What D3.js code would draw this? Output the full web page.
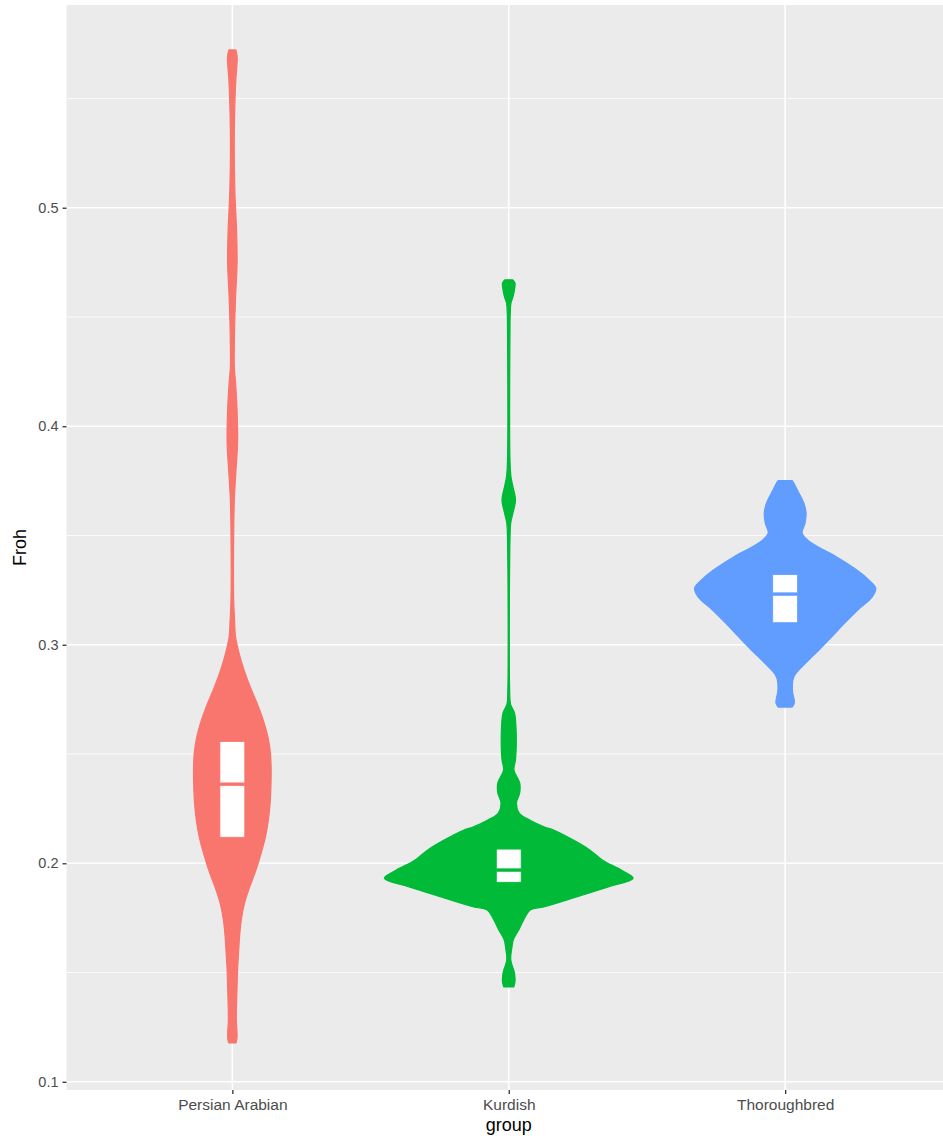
<!DOCTYPE html>
<html>
<head>
<meta charset="utf-8">
<script src="https://cdn.jsdelivr.net/npm/d3@7"></script>
<style>
  html, body { margin: 0; padding: 0; background: #ffffff; }
  svg { display: block; }
  text { font-family: "Liberation Sans", Arial, sans-serif; }
</style>
</head>
<body>
<svg id="chart" width="943" height="1136"></svg>
<script>
// Groups and their fill colours
const groups = ["Persian Arabian", "Kurdish", "Thoroughbred"];
const colors = ["#F8766D", "#00BA38", "#619CFF"];

// Violin outlines: [Froh, relative density]
const persianDensity = [
  [0.5722, 0.028], [0.5695, 0.038], [0.5663, 0.038], [0.5585, 0.028], [0.5507, 0.022],
  [0.5356, 0.016], [0.5205, 0.016], [0.5049, 0.022], [0.4898, 0.034], [0.4747, 0.038],
  [0.4592, 0.026], [0.4441, 0.018], [0.4271, 0.016], [0.4198, 0.026], [0.4074, 0.038],
  [0.3924, 0.042], [0.3768, 0.026], [0.3663, 0.016], [0.3512, 0.011], [0.3205, 0.011],
  [0.3113, 0.018], [0.3035, 0.026], [0.2962, 0.054], [0.2885, 0.094], [0.2807, 0.144],
  [0.2734, 0.198], [0.2656, 0.248], [0.2578, 0.286], [0.2505, 0.306], [0.2427, 0.312],
  [0.2349, 0.310], [0.2276, 0.304], [0.2198, 0.290], [0.2120, 0.266], [0.2047, 0.232],
  [0.1969, 0.190], [0.1892, 0.140], [0.1818, 0.098], [0.1741, 0.072], [0.1663, 0.058],
  [0.1590, 0.050], [0.1512, 0.042], [0.1434, 0.038], [0.1361, 0.034], [0.1283, 0.032],
  [0.1205, 0.038], [0.1178, 0.030]
];
const kurdishDensity = [
  [0.4670, 0.032], [0.4656, 0.050], [0.4624, 0.046], [0.4592, 0.034], [0.4564, 0.018],
  [0.4518, 0.012], [0.4441, 0.010], [0.3846, 0.010], [0.3768, 0.018], [0.3723, 0.034],
  [0.3663, 0.054], [0.3603, 0.034], [0.3558, 0.016], [0.3480, 0.010], [0.2748, 0.010],
  [0.2725, 0.016], [0.2688, 0.046], [0.2624, 0.058], [0.2532, 0.060], [0.2473, 0.054],
  [0.2427, 0.042], [0.2368, 0.088], [0.2322, 0.088], [0.2276, 0.062], [0.2230, 0.084],
  [0.2198, 0.168], [0.2166, 0.288], [0.2152, 0.360], [0.2106, 0.520], [0.2060, 0.654],
  [0.2015, 0.752], [0.1969, 0.904], [0.1932, 1.000], [0.1892, 0.800], [0.1846, 0.544],
  [0.1800, 0.280], [0.1787, 0.176], [0.1741, 0.120], [0.1695, 0.080], [0.1649, 0.036],
  [0.1617, 0.026], [0.1558, 0.016], [0.1498, 0.046], [0.1457, 0.050], [0.1434, 0.040]
];
const thoroughbredDensity = [
  [0.3751, 0.056], [0.3736, 0.074], [0.3708, 0.098], [0.3649, 0.150], [0.3603, 0.168],
  [0.3557, 0.160], [0.3512, 0.136], [0.3480, 0.180], [0.3448, 0.264], [0.3402, 0.414],
  [0.3343, 0.574], [0.3297, 0.672], [0.3260, 0.728], [0.3219, 0.700], [0.3159, 0.584],
  [0.3100, 0.480], [0.3036, 0.374], [0.2976, 0.272], [0.2917, 0.166], [0.2853, 0.070],
  [0.2793, 0.058], [0.2734, 0.074], [0.2715, 0.056]
];
const densities = [persianDensity, kurdishDensity, thoroughbredDensity];

// Box statistics per group
const q1Values = [0.2119, 0.1913, 0.3101];
const medianValues = [0.2362, 0.1969, 0.3232];
const q3Values = [0.2557, 0.2065, 0.3321];

// Axis ticks
const yMajorTicks = [0.1, 0.2, 0.3, 0.4, 0.5];
const yMinorTicks = [0.15, 0.25, 0.35, 0.45, 0.55];
const yDomain = [0.09625, 0.59277];

const svg = d3.select("#chart");
const panel = { left: 66.5, right: 951, top: 5, bottom: 1090 };

const x = d3.scalePoint()
  .domain(groups)
  .range([panel.left, panel.right])
  .padding(0.6);

const y = d3.scaleLinear()
  .domain(yDomain)
  .range([panel.bottom, panel.top]);

const step = x.step();
const maxDensity = d3.max(densities, d => d3.max(d, p => p[1]));
const w = d3.scaleLinear().domain([0, maxDensity]).range([0, 0.45 * step]);

// Panel background
svg.append("rect")
  .attr("x", panel.left).attr("y", panel.top)
  .attr("width", panel.right - panel.left).attr("height", panel.bottom - panel.top)
  .attr("fill", "#EBEBEB");

const grid = svg.append("g");
grid.selectAll(".minor").data(yMinorTicks).join("line")
  .attr("x1", panel.left).attr("x2", panel.right)
  .attr("y1", d => y(d)).attr("y2", d => y(d))
  .attr("stroke", "#ffffff").attr("stroke-width", 0.8);
grid.selectAll(".major").data(yMajorTicks).join("line")
  .attr("x1", panel.left).attr("x2", panel.right)
  .attr("y1", d => y(d)).attr("y2", d => y(d))
  .attr("stroke", "#ffffff").attr("stroke-width", 1.6);
grid.selectAll(".vmajor").data(groups).join("line")
  .attr("x1", d => x(d)).attr("x2", d => x(d))
  .attr("y1", panel.top).attr("y2", panel.bottom)
  .attr("stroke", "#ffffff").attr("stroke-width", 1.6);

// Violins
const violins = svg.append("g");
groups.forEach((g, i) => {
  const cx = x(g);
  const area = d3.area()
    .y(d => y(d[0]))
    .x0(d => cx - w(d[1]))
    .x1(d => cx + w(d[1]))
    .curve(d3.curveCatmullRom.alpha(0.5));
  violins.append("path")
    .datum(densities[i])
    .attr("d", area)
    .attr("fill", colors[i])
    .attr("stroke", colors[i])
    .attr("stroke-width", 1.2)
    .attr("stroke-linejoin", "round");
});

// Boxes with median lines
const boxHalf = 0.045 * step;
const boxes = svg.append("g");
groups.forEach((g, i) => {
  const cx = x(g);
  boxes.append("rect")
    .attr("x", cx - boxHalf)
    .attr("y", y(q3Values[i]))
    .attr("width", 2 * boxHalf)
    .attr("height", y(q1Values[i]) - y(q3Values[i]))
    .attr("fill", "#ffffff")
    .attr("stroke", colors[i])
    .attr("stroke-width", 0.8);
  boxes.append("line")
    .attr("x1", cx - boxHalf).attr("x2", cx + boxHalf)
    .attr("y1", y(medianValues[i])).attr("y2", y(medianValues[i]))
    .attr("stroke", colors[i])
    .attr("stroke-width", 3.4);
});

// Y axis
const yAxis = svg.append("g")
  .attr("transform", `translate(${panel.left},0)`)
  .call(d3.axisLeft(y).tickValues(yMajorTicks).tickFormat(d3.format(".1f")).tickSize(4).tickPadding(4));
yAxis.select(".domain").remove();
yAxis.selectAll(".tick line").attr("stroke", "#333333").attr("stroke-width", 1.3);
yAxis.selectAll(".tick text")
  .attr("fill", "#4D4D4D")
  .style("font-size", "14.5px")
  .style("font-family", "'Liberation Sans', Arial, sans-serif");

// X axis
const xAxis = svg.append("g")
  .attr("transform", `translate(0,${panel.bottom})`)
  .call(d3.axisBottom(x).tickSize(4).tickPadding(5));
xAxis.select(".domain").remove();
xAxis.selectAll(".tick line").attr("stroke", "#333333").attr("stroke-width", 1.3);
xAxis.selectAll(".tick text")
  .attr("fill", "#4D4D4D")
  .style("font-size", "15.5px")
  .style("font-family", "'Liberation Sans', Arial, sans-serif");

// Axis titles
svg.append("text")
  .attr("x", (panel.left + panel.right) / 2)
  .attr("y", 1131)
  .attr("text-anchor", "middle")
  .attr("fill", "#000000")
  .style("font-size", "18px")
  .text("group");

svg.append("text")
  .attr("transform", `translate(26,${(panel.top + panel.bottom) / 2}) rotate(-90)`)
  .attr("text-anchor", "middle")
  .attr("fill", "#000000")
  .style("font-size", "18px")
  .text("Froh");
</script>
</body>
</html>
